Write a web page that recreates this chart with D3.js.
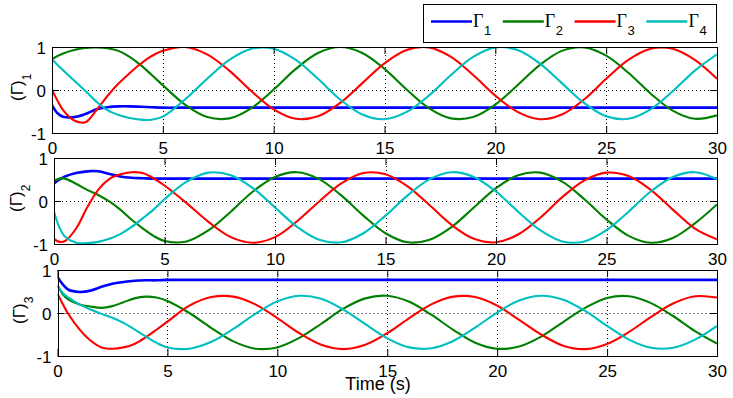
<!DOCTYPE html>
<html>
<head>
<meta charset="utf-8">
<script src="https://cdn.jsdelivr.net/npm/d3@7"></script>
<style>
body { margin: 0; background: #fff; }
svg { display: block; }
</style>
</head>
<body>
<script>
// sample times (s) - finer at the start where the transients are
var time = [0,0.25,0.5,1,1.5,2,2.5,3,3.5,4,4.5,5,6,7,8,9,10,11,12,13,14,15,16,17,18,19,20,21,22,23,24,25,26,27,28,29,30];

var xTicks = [0,5,10,15,20,25,30];
var yTicks = [-1,0,1];
var gridX = [5,10,15,20,25];
var gridY = [0];
var legendSubs = ["1","2","3","4"];
var panelSubs = ["1","2","3"];
var xLabel = "Time (s)";

//(Gamma)_1 component
var c1_g1 = [-0.35,-0.54,-0.62,-0.63,-0.56,-0.45,-0.40,-0.38,-0.38,-0.39,-0.40,
	-0.41,-0.41,-0.41,-0.41,-0.41,-0.41,-0.41,-0.41,-0.41,-0.41,-0.41,-0.41,-0.41,-0.41,-0.41,-0.41,-0.41,-0.41,-0.41,-0.41,-0.41,-0.41,-0.41,-0.41,-0.41,-0.41];
var c1_g2 = [0.72,0.79,0.85,0.93,0.98,0.99,0.97,0.91,0.77,0.58,0.35,
	0.11,-0.34,-0.63,-0.66,-0.42,0.01,0.49,0.86,1.00,0.86,0.49,0.01,-0.42,-0.66,-0.63,-0.34,0.11,0.58,0.91,0.99,0.80,0.40,-0.08,-0.48,-0.67,-0.59];
var c1_g3 = [0.00,-0.25,-0.47,-0.71,-0.75,-0.47,-0.14,0.15,0.39,0.61,0.79,
	0.91,1.00,0.83,0.45,-0.03,-0.45,-0.67,-0.61,-0.30,0.16,0.62,0.93,0.99,0.77,0.35,-0.13,-0.51,-0.68,-0.57,-0.22,0.26,0.70,0.96,0.96,0.70,0.26];
var c1_g4 = [0.72,0.58,0.46,0.22,-0.02,-0.27,-0.47,-0.58,-0.65,-0.69,-0.69,
	-0.62,-0.22,0.26,0.70,0.96,0.96,0.70,0.26,-0.22,-0.57,-0.68,-0.51,-0.13,0.35,0.77,0.99,0.93,0.62,0.16,-0.30,-0.61,-0.67,-0.45,-0.03,0.45,0.83];

//(Gamma)_2 component
var c2_g1 = [0.41,0.50,0.57,0.65,0.69,0.69,0.63,0.57,0.54,0.53,0.52,
	0.52,0.52,0.52,0.52,0.52,0.52,0.52,0.52,0.52,0.52,0.52,0.52,0.52,0.52,0.52,0.52,0.52,0.52,0.52,0.52,0.52,0.52,0.52,0.52,0.52,0.52];
var c2_g2 = [0.47,0.52,0.52,0.40,0.26,0.14,-0.01,-0.20,-0.43,-0.63,-0.81,
	-0.93,-0.94,-0.68,-0.25,0.22,0.56,0.67,0.51,0.13,-0.34,-0.75,-0.96,-0.90,-0.60,-0.15,0.30,0.60,0.66,0.45,0.04,-0.43,-0.81,-0.97,-0.86,-0.52,-0.08];
var c2_g3 = [-0.88,-0.95,-0.93,-0.64,-0.15,0.26,0.51,0.62,0.67,0.65,0.53,
	0.36,-0.05,-0.49,-0.84,-0.97,-0.84,-0.47,-0.01,0.41,0.65,0.62,0.34,-0.10,-0.56,-0.88,-0.96,-0.78,-0.39,0.09,0.48,0.66,0.58,0.26,-0.20,-0.64,-0.89];
var c2_g4 = [-0.25,-0.62,-0.83,-0.97,-0.98,-0.95,-0.88,-0.77,-0.61,-0.41,-0.20,
	0.04,0.45,0.66,0.60,0.30,-0.15,-0.60,-0.90,-0.96,-0.75,-0.34,0.13,0.51,0.67,0.56,0.22,-0.25,-0.68,-0.94,-0.94,-0.68,-0.25,0.22,0.56,0.67,0.51];

//(Gamma)_3 component
var c3_g1 = [0.84,0.66,0.54,0.49,0.52,0.61,0.68,0.72,0.75,0.76,0.76,
	0.77,0.77,0.77,0.77,0.77,0.77,0.77,0.77,0.77,0.77,0.77,0.77,0.77,0.77,0.77,0.77,0.77,0.77,0.77,0.77,0.77,0.77,0.77,0.77,0.77,0.77];
var c3_g2 = [0.64,0.43,0.31,0.20,0.15,0.12,0.16,0.25,0.34,0.38,0.36,
	0.28,0.00,-0.35,-0.66,-0.83,-0.80,-0.58,-0.25,0.10,0.34,0.40,0.26,-0.04,-0.39,-0.69,-0.83,-0.78,-0.55,-0.21,0.12,0.35,0.39,0.23,-0.07,-0.42,-0.71];
var c3_g3 = [0.45,0.20,-0.03,-0.38,-0.64,-0.80,-0.83,-0.80,-0.72,-0.57,-0.39,
	-0.20,0.17,0.37,0.38,0.20,-0.12,-0.47,-0.74,-0.84,-0.74,-0.47,-0.12,0.20,0.38,0.37,0.17,-0.16,-0.50,-0.76,-0.84,-0.72,-0.44,-0.09,0.22,0.39,0.36];
var c3_g4 = [0.64,0.46,0.36,0.20,0.08,-0.02,-0.11,-0.23,-0.38,-0.54,-0.69,
	-0.80,-0.83,-0.67,-0.37,-0.02,0.27,0.40,0.33,0.08,-0.26,-0.59,-0.80,-0.82,-0.65,-0.34,0.01,0.29,0.40,0.31,0.05,-0.30,-0.62,-0.81,-0.81,-0.62,-0.30];

var colors = ["#0000ff","#008000","#ff0000","#00bfbf"];
var sansFont = "'Liberation Sans', Arial, Helvetica, sans-serif";
var serifFont = "'Liberation Serif', 'Times New Roman', serif";

var width = 733, height = 398;

var svg = d3.select("body").append("svg")
	.attr("width", width)
	.attr("height", height);

svg.append("rect").attr("width", width).attr("height", height).style("fill", "#fff");

// axes boxes (pixels)
var panels = [
	{ left: 52, right: 717, top: 47, bottom: 133, labelX: 23, series: [c1_g1,c1_g2,c1_g3,c1_g4] },
	{ left: 54, right: 717, top: 158, bottom: 244, labelX: 22, series: [c2_g1,c2_g2,c2_g3,c2_g4] },
	{ left: 57.5, right: 717, top: 270, bottom: 356, labelX: 25, series: [c3_g1,c3_g2,c3_g3,c3_g4] }
];

panels.forEach(function(p, pi){
	var x = d3.scaleLinear().domain([0,30]).range([p.left, p.right]);
	var y = d3.scaleLinear().domain([-1,1]).range([p.bottom, p.top]);

	var g = svg.append("g");

	//clip
	svg.append("defs").append("clipPath")
		.attr("id", "clip" + pi)
		.append("rect")
		.attr("x", p.left).attr("y", p.top)
		.attr("width", p.right - p.left).attr("height", p.bottom - p.top);

	//grid, dotted
	g.selectAll(".gx").data(gridX).enter().append("line")
		.attr("x1", function(d){ return Math.round(x(d)) + 0.5; })
		.attr("x2", function(d){ return Math.round(x(d)) + 0.5; })
		.attr("y1", p.top).attr("y2", p.bottom)
		.style("stroke", "#000").style("stroke-width", 1).style("stroke-dasharray", "1,3");
	g.selectAll(".gy").data(gridY).enter().append("line")
		.attr("x1", p.left).attr("x2", p.right)
		.attr("y1", function(d){ return Math.round(y(d)) + 0.5; })
		.attr("y2", function(d){ return Math.round(y(d)) + 0.5; })
		.style("stroke", "#000").style("stroke-width", 1).style("stroke-dasharray", "1,3");

	//series
	var line = d3.line()
		.x(function(d,i){ return x(time[i]); })
		.y(function(d){ return y(d); })
		.curve(d3.curveCatmullRom.alpha(0.5));

	var lines = g.append("g").attr("clip-path", "url(#clip" + pi + ")");
	p.series.forEach(function(s, si){
		lines.append("path")
			.attr("d", line(s))
			.style("fill", "none")
			.style("stroke", colors[si])
			.style("stroke-width", si === 0 ? 2.6 : 2.1)
			.style("stroke-linejoin", "round");
	});

	//axes with inward ticks
	var bottomAxis = g.append("g")
		.attr("transform", "translate(0," + p.bottom + ")")
		.call(d3.axisBottom(x).tickValues(xTicks).tickSizeInner(-7).tickSizeOuter(0).tickPadding(9)
			.tickFormat(function(d){ return String(d); }));
	var topAxis = g.append("g")
		.attr("transform", "translate(0," + p.top + ")")
		.call(d3.axisTop(x).tickValues(xTicks).tickSizeInner(-7).tickSizeOuter(0).tickFormat(""));
	var leftAxis = g.append("g")
		.attr("transform", "translate(" + p.left + ",0)")
		.call(d3.axisLeft(y).tickValues(yTicks).tickSizeInner(-7).tickSizeOuter(0).tickPadding(6)
			.tickFormat(function(d){ return String(d); }));
	var rightAxis = g.append("g")
		.attr("transform", "translate(" + p.right + ",0)")
		.call(d3.axisRight(y).tickValues(yTicks).tickSizeInner(-7).tickSizeOuter(0).tickFormat(""));

	[bottomAxis, topAxis, leftAxis, rightAxis].forEach(function(a){
		a.select(".domain").remove();
		a.attr("font-size", 17).attr("font-family", sansFont);
		a.selectAll("text").style("fill", "#000");
	});
	leftAxis.selectAll("text").attr("dy", "0.4em");

	//box
	g.append("rect")
		.attr("x", Math.round(p.left) + 0.5).attr("y", p.top + 0.5)
		.attr("width", Math.round(p.right) - Math.round(p.left)).attr("height", p.bottom - p.top)
		.style("fill", "none").style("stroke", "#000").style("stroke-width", 1);

	//y label (Gamma)_n
	var yc = (p.top + p.bottom) / 2 + 1;
	var lbl = svg.append("text")
		.attr("transform", "translate(" + p.labelX + "," + yc + ") rotate(-90)")
		.attr("x", -10)
		.attr("font-family", sansFont)
		.attr("font-size", 17)
		.style("fill", "#000");
	lbl.append("tspan").text("(\u0393)");
	lbl.append("tspan").attr("dy", 8).attr("font-size", 12).text(panelSubs[pi]);
});

// x label
svg.append("text")
	.attr("x", 378).attr("y", 390)
	.attr("text-anchor", "middle")
	.attr("font-family", sansFont)
	.attr("font-size", 18)
	.style("fill", "#000")
	.text(xLabel);

// legend
var legend = svg.append("g");
legend.append("rect")
	.attr("x", 423.5).attr("y", 4.5).attr("width", 293).attr("height", 38)
	.style("fill", "#fff").style("stroke", "#000").style("stroke-width", 1);

var item = legend.selectAll(".item").data(legendSubs).enter().append("g")
	.attr("class", "item")
	.attr("transform", function(d,i){ return "translate(" + (431 + i*71.8) + ",0)"; });
item.append("line")
	.attr("x1", 0).attr("x2", 41)
	.attr("y1", 21.5).attr("y2", 21.5)
	.style("stroke", function(d,i){ return colors[i]; })
	.style("stroke-width", 2.6);
item.append("text")
	.attr("x", 42).attr("y", 27)
	.attr("font-family", serifFont)
	.attr("font-size", 18)
	.style("fill", "#000")
	.text("\u0393");
item.append("text")
	.attr("x", 53).attr("y", 35)
	.attr("font-family", sansFont)
	.attr("font-size", 13)
	.style("fill", "#000")
	.text(function(d){ return d; });
</script>
</body>
</html>
